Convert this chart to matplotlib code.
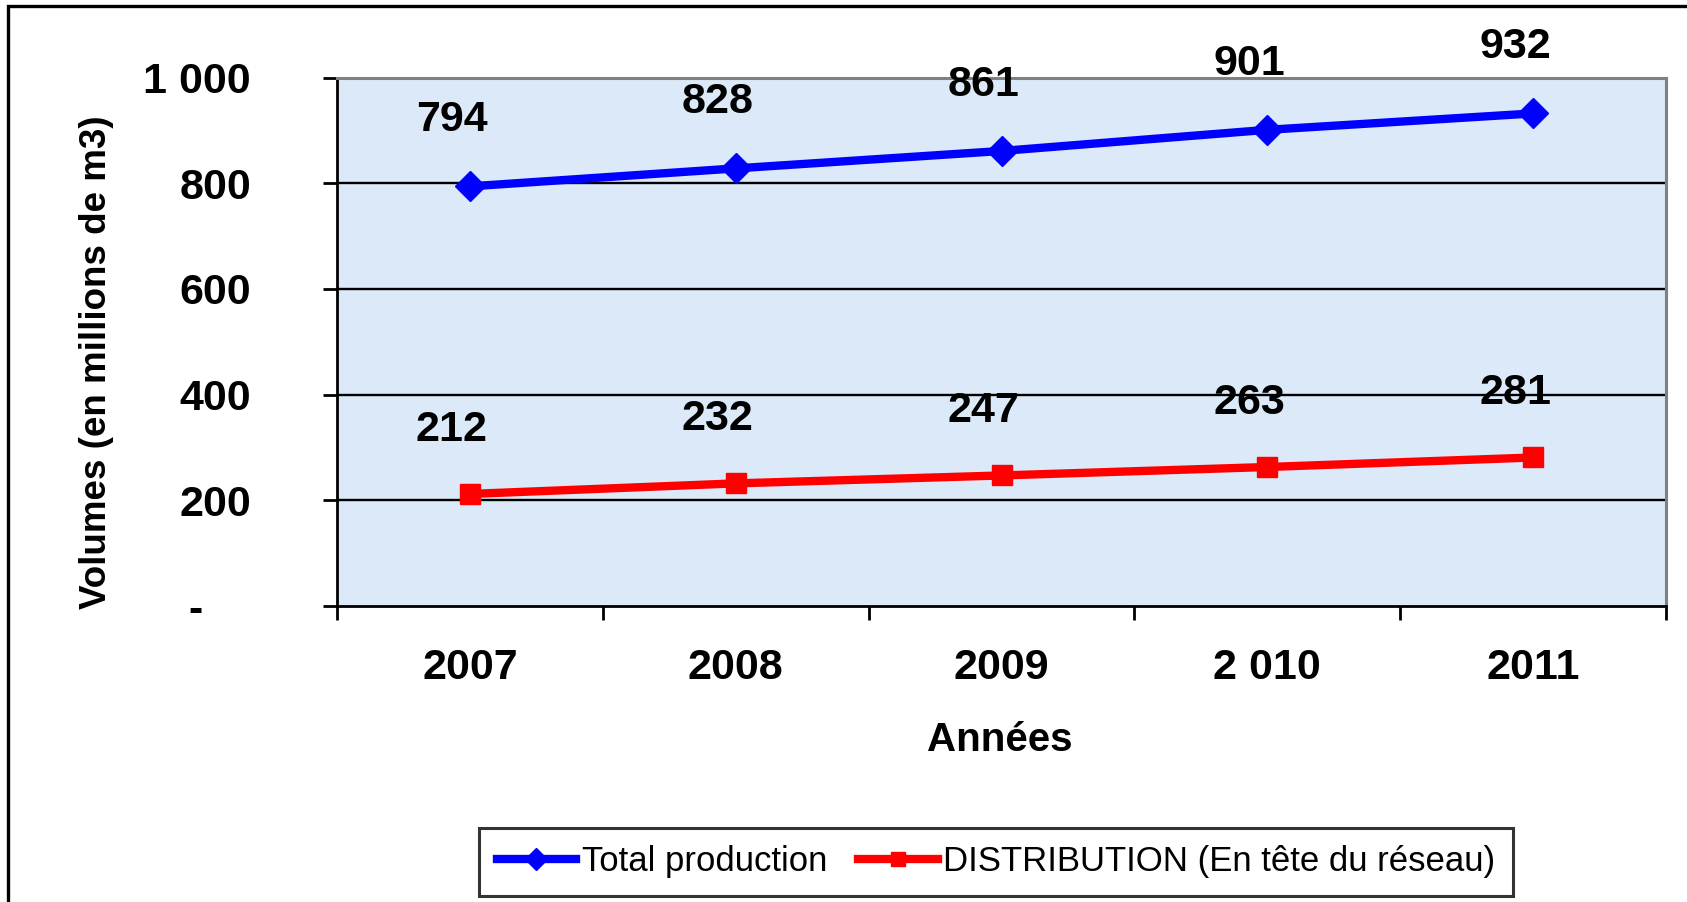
import numpy as np
import matplotlib
matplotlib.use("Agg")
import matplotlib.pyplot as plt
from matplotlib.patches import Rectangle

years = ["2007", "2008", "2009", "2 010", "2011"]
total_prod = [794, 828, 861, 901, 932]
distribution = [212, 232, 247, 263, 281]
y_ticks = [0, 200, 400, 600, 800, 1000]
y_ticklabels = ["-    ", "200", "400", "600", "800", "1 000"]

narrow = ['Liberation Sans Narrow', 'Liberation Sans', 'DejaVu Sans']
wide = ['Liberation Sans', 'DejaVu Sans']

W, H = 1687, 902
fig = plt.figure(figsize=(W / 100, H / 100), dpi=100)
fig.patch.set_facecolor('white')

# outer frame (right/bottom run off the picture)
fig.add_artist(Rectangle((8 / W, -0.05), 1.2, 1 - 6 / H + 0.05, transform=fig.transFigure,
                         fill=False, edgecolor='black', linewidth=2.4))

ax = fig.add_axes([337 / W, 1 - 606 / H, (1666 - 337) / W, (606 - 77.5) / H])
ax.set_facecolor('#dbe9f8')

x = np.arange(len(years))
ax.set_xlim(-0.5, len(years) - 0.5)
ax.set_ylim(0, 1000)

for v in y_ticks[1:-1]:
    ax.axhline(v, color='black', lw=1.7, zorder=1)

ax.plot(x, total_prod, '-', color='#0000ff', lw=6, marker='D', ms=15, zorder=3,
        label='Total production')
ax.plot(x, distribution, '-', color='#ff0000', lw=6, marker='s', ms=14, zorder=3,
        label='DISTRIBUTION (En tête du réseau)')

for xi, v in zip(x, total_prod):
    ax.annotate(str(v), (xi, v), xytext=(-18, 66), textcoords='offset pixels',
                ha='center', va='center', fontsize=31, fontweight='bold',
                family=narrow, annotation_clip=False)
for xi, v in zip(x, distribution):
    ax.annotate(str(v), (xi, v), xytext=(-18, 64), textcoords='offset pixels',
                ha='center', va='center', fontsize=31, fontweight='bold',
                family=narrow, annotation_clip=False)

ax.set_yticks(y_ticks)
ax.set_yticklabels(y_ticklabels, fontsize=31, fontweight='bold', family=narrow)
ax.tick_params(axis='y', direction='out', length=10, width=2, pad=52)

ax.set_xticks(x)
ax.set_xticklabels(years, fontsize=31, fontweight='bold', family=narrow)
ax.set_xticks(np.arange(-0.5, len(years)), minor=True)
ax.tick_params(axis='x', which='major', length=0, pad=30)
ax.tick_params(axis='x', which='minor', direction='out', length=10, width=2)

for s in ['left', 'bottom']:
    ax.spines[s].set_color('black')
    ax.spines[s].set_linewidth(2)
for s in ['top', 'right']:
    ax.spines[s].set_color('#808080')
    ax.spines[s].set_linewidth(2.2)

fig.text(1000 / W, 1 - 740 / H, 'Années', ha='center', va='center',
         fontsize=29, fontweight='bold', family=wide)
fig.text(97 / W, 1 - 362 / H, 'Volumes (en millions de m3)', ha='center', va='center',
         rotation=90, fontsize=26.5, fontweight='bold', family=wide)

leg = fig.legend(loc='center', bbox_to_anchor=(996 / W, 1 - 862 / H), ncol=2,
                 prop={'family': narrow, 'size': 25}, frameon=True, fancybox=False,
                 handlelength=2.3, handletextpad=0.15, columnspacing=0.9,
                 borderpad=0.5, borderaxespad=0.0, markerscale=0.75)
leg.get_frame().set_edgecolor('black')
leg.get_frame().set_linewidth(2.2)

fig.savefig('out.png', dpi=100)
